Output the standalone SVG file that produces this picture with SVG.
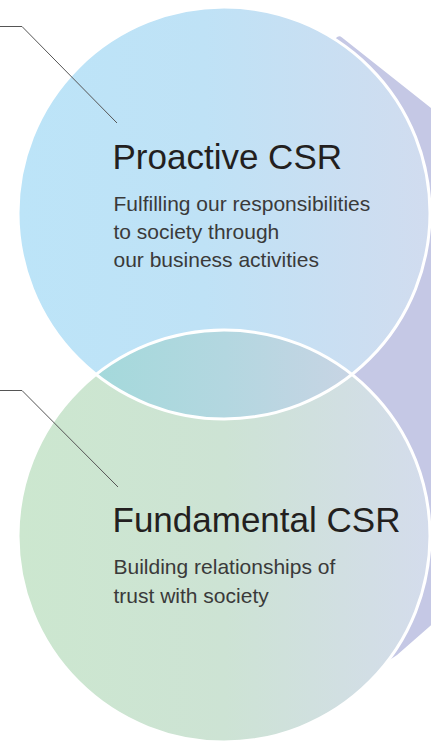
<svg xmlns="http://www.w3.org/2000/svg" width="431" height="742" viewBox="0 0 431 742">
  <defs>
    <linearGradient id="gTop" gradientUnits="userSpaceOnUse" x1="18" y1="0" x2="430" y2="0">
      <stop offset="0" stop-color="#bce4f8"/>
      <stop offset="0.45" stop-color="#bfe2f6"/>
      <stop offset="1" stop-color="#d1dcef"/>
    </linearGradient>
    <linearGradient id="gBot" gradientUnits="userSpaceOnUse" x1="18" y1="0" x2="430" y2="0">
      <stop offset="0" stop-color="#cce7cf"/>
      <stop offset="0.5" stop-color="#cde3d4"/>
      <stop offset="1" stop-color="#d4dcec"/>
    </linearGradient>
    <linearGradient id="gLens" gradientUnits="userSpaceOnUse" x1="94" y1="0" x2="356" y2="0">
      <stop offset="0" stop-color="#a4d9db"/>
      <stop offset="0.5" stop-color="#b3d7e0"/>
      <stop offset="1" stop-color="#c8d4e4"/>
    </linearGradient>
    <clipPath id="clipTop">
      <circle cx="224" cy="213" r="206"/>
    </clipPath>
    <style>
      .ring { fill: none; stroke: #ffffff; stroke-width: 3; }
      .title { font-family: "Liberation Sans", Arial, sans-serif; font-size: 35px; fill: #231f20; }
      .sub { font-family: "Liberation Sans", Arial, sans-serif; font-size: 21px; fill: #3a3a3a; }
      .leader { fill: none; stroke: #555555; stroke-width: 1; }
    </style>
  </defs>

  <g id="backdrop">
    <path d="M 312,70 L 336,38 Q 339,35 342,37.5 L 560,210 L 560,512 L 397,655 L 330,700 Z" fill="#c5c8e5"/>
  </g>

  <g id="fundamental-csr">
    <circle cx="224" cy="536" r="206" fill="url(#gBot)"/>
  </g>
  <g id="proactive-csr">
    <circle cx="224" cy="213" r="206" fill="url(#gTop)"/>
  </g>
  <g id="overlap">
    <circle cx="224" cy="536" r="206" fill="url(#gLens)" clip-path="url(#clipTop)"/>
  </g>
  <g id="rings">
    <circle class="ring" cx="224" cy="213" r="206"/>
    <circle class="ring" cx="224" cy="536" r="206"/>
  </g>

  <g id="proactive-text">
    <text class="title" x="112.5" y="169">Proactive CSR</text>
    <text class="sub" x="113.5" y="210.7">Fulfilling our responsibilities</text>
    <text class="sub" x="113.5" y="239">to society through</text>
    <text class="sub" x="113.5" y="267.3">our business activities</text>
  </g>
  <g id="fundamental-text">
    <text class="title" x="112.5" y="531.7">Fundamental CSR</text>
    <text class="sub" x="113.5" y="574">Building relationships of</text>
    <text class="sub" x="113.5" y="602.5">trust with society</text>
  </g>

  <g id="connectors">
    <polyline class="leader" points="0,26.5 22,26.5 117,123"/>
    <polyline class="leader" points="0,390.5 22,390.5 118,487"/>
  </g>
</svg>
